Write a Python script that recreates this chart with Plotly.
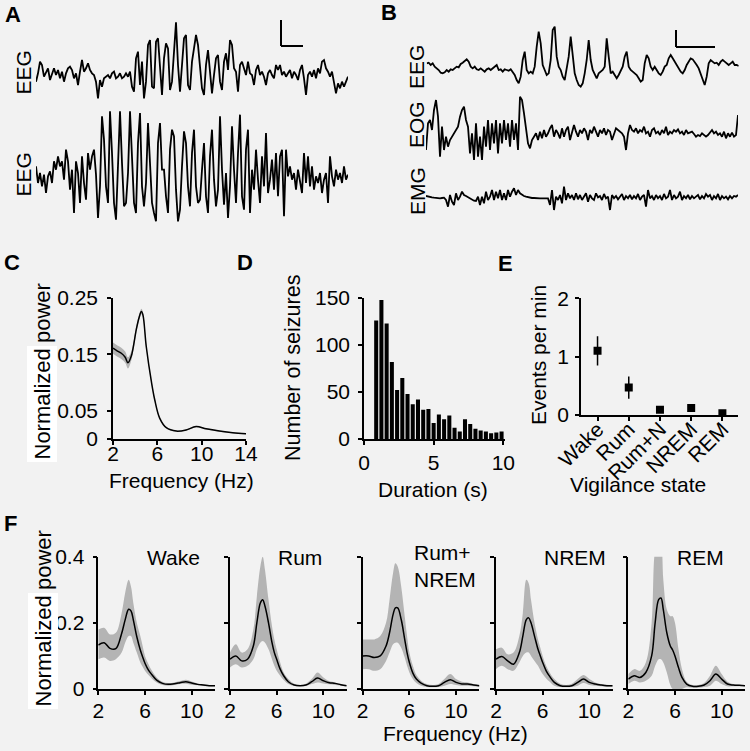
import plotly.graph_objects as go

# ---------------- DATA ----------------
# Panel A: example EEG traces (amplitude, arbitrary units, evenly sampled)
eeg_a1 = [-15,10,45,35,0,15,25,-10,10,25,5,20,-5,15,-15,10,25,30,20,-5,10,-25,15,50,15,25,40,20,10,5,-15,-65,-10,-30,-5,0,5,-5,10,15,-5,0,10,-5,0,10,0,15,-30,-45,55,75,-25,45,-65,-15,95,110,-30,-35,105,115,15,-55,55,100,85,-40,-15,75,163,35,-45,35,115,125,-25,-40,45,85,125,95,25,-35,-55,35,80,15,-50,5,55,65,-15,-40,45,70,20,110,95,25,15,-45,35,45,25,5,45,10,5,-25,20,35,5,15,0,-25,10,20,5,-5,35,20,35,5,15,0,10,20,-5,15,5,-10,20,35,-5,-55,5,15,0,20,-5,25,10,45,50,25,15,0,15,-15,-50,-20,-35,-15,-30,-15,0]
eeg_a2 = [35,-15,15,-25,10,-45,5,20,-15,50,25,65,35,50,-5,85,50,-35,25,-105,50,15,-75,65,-15,-65,75,25,65,85,10,-120,-25,185,115,-25,-75,200,75,-75,-125,25,200,45,-85,-75,15,200,35,-75,-105,105,195,-25,-85,-15,165,55,-75,-105,-130,105,165,25,25,-55,-105,85,145,125,-35,-130,-95,35,140,105,-25,-85,75,145,-25,-75,-65,25,105,-55,-105,65,145,-5,-85,-35,185,25,-80,15,-120,-25,155,25,-75,75,190,-55,-95,85,145,-105,25,-35,85,-5,-75,65,-25,135,-45,-5,55,-35,75,-55,65,85,-115,85,5,35,-5,15,-35,25,-5,-45,75,-15,65,-25,35,-35,5,-15,15,-45,-5,15,-75,65,5,-25,25,-5,15,-15,35,-5,10]
# Panel B: EEG / EOG / EMG traces
eeg_b = [20,22,15,20,10,5,0,-8,-10,-7,0,-5,2,0,5,10,8,18,22,28,32,25,10,5,10,2,0,5,0,-5,2,5,0,5,10,15,0,2,-5,2,0,-2,2,-5,-15,-30,-40,-20,30,55,0,-10,-5,-10,10,70,115,80,15,0,-15,-10,30,120,130,40,10,0,-20,-30,0,40,100,50,-10,-30,-45,-50,-40,-10,30,90,30,0,-15,-25,-10,-5,0,10,95,40,-10,-5,-15,-25,-15,0,10,40,55,10,0,-5,-10,-15,-25,-35,-30,20,45,35,10,0,10,0,-10,-15,-5,10,15,35,45,35,25,15,5,-5,-10,0,15,25,35,32,25,15,5,-10,-25,-45,-20,20,30,25,20,22,15,25,30,25,20,15,20,25,15,15,12]
eog_b = [-45,35,45,15,75,105,55,-65,25,-45,-5,-35,-15,-5,5,15,25,55,75,85,45,25,-55,5,-75,35,-65,-5,-75,25,-35,45,-45,35,-25,45,-55,35,-25,45,-15,35,-35,45,-15,35,-45,115,105,65,15,-25,-40,-15,-5,5,-15,10,-10,15,-5,5,20,30,-5,15,5,-10,20,-5,15,25,-15,5,30,10,-5,15,5,20,10,-15,15,5,25,10,-5,15,5,20,0,15,10,-15,5,20,15,10,5,-5,-45,5,30,15,10,20,5,15,10,25,5,10,-5,15,20,5,10,0,15,5,25,0,10,5,15,10,17,5,10,0,15,5,7,10,3,-5,0,-3,5,0,-5,0,7,15,5,10,0,5,-5,10,-10,5,-5,7,-5,0,60]
emg_b = [2,0,-2,-2,-3,-4,-5,-5,-4,-3,-10,-30,5,-15,-25,10,-10,0,15,5,2,-2,-6,-10,-12,-13,0,-25,0,-20,15,-10,0,20,-10,15,-5,20,-10,10,-10,20,0,15,25,5,20,10,5,2,0,-2,-3,-4,-4,-5,-5,-5,-5,-5,-6,-5,-25,20,-40,0,-10,5,-20,30,-10,10,-5,5,-10,10,-8,5,-10,2,10,-15,5,-5,-10,10,-2,2,-10,8,-5,0,-40,5,-5,2,-8,0,8,-10,2,-5,5,-8,2,-5,8,-10,0,5,-30,20,-5,2,-10,5,-5,2,-10,8,-5,0,20,-10,5,-5,0,15,-10,2,-5,5,-8,2,-5,0,5,-8,2,-5,8,0,5,-10,2,-5,8,-10,2,-5,0,-8,2,-5,2,0,5]

# Panel C: mean normalized power spectrum of seizures
c_freq = [2, 2.4, 2.75, 3.1, 3.35, 3.65, 4.1, 4.35, 4.56, 4.7, 5.0, 5.46, 5.76, 6.21, 6.81, 7.71, 8.6, 9.5, 10.4, 11.6, 12.8, 14]
c_mean = [0.161, 0.156, 0.152, 0.145, 0.135, 0.147, 0.194, 0.215, 0.226, 0.22, 0.164, 0.102, 0.07, 0.037, 0.02, 0.014, 0.016, 0.022, 0.018, 0.014, 0.011, 0.0095]
c_sem = [0.01, 0.01, 0.01, 0.01, 0.01, 0.008, 0.006, 0.005, 0.005, 0.005, 0.003, 0.002, 0.002, 0.001, 0.001, 0.001, 0.001, 0.001, 0.001, 0.001, 0.001, 0.001]

# Panel D: seizure duration histogram
d_duration = [0.875, 1.25, 1.625, 2.0, 2.375, 2.75, 3.125, 3.5, 3.875, 4.25, 4.625, 5.0, 5.375, 5.75, 6.125, 6.5, 6.875, 7.25, 7.625, 8.0, 8.375, 8.75, 9.125, 9.5, 9.875]
d_count = [126, 148, 123, 82, 52, 65, 48, 37, 42, 31, 32, 17, 26, 21, 25, 12, 8, 21, 16, 11, 9, 8, 6, 7, 8]

# Panel E: events per minute by vigilance state
e_states = ["Wake", "Rum", "Rum+N", "NREM", "REM"]
e_rate = [1.1, 0.47, 0.09, 0.12, 0.03]
e_err = [0.25, 0.19, 0.02, 0.02, 0.01]

# Panel F: spectra per vigilance state
f_titles = ["Wake", "Rum", "Rum+<br>NREM", "NREM", "REM"]
f_freq = [2, 2.5, 3, 3.5, 4, 4.3, 4.6, 4.8, 5.0, 5.3, 5.6, 5.8, 6.0, 6.3, 6.6, 7.0, 7.5, 8.0, 8.5, 9.0, 9.5, 10.0, 10.5, 11.0, 11.5, 12.0]
f_mean = [
    [0.133, 0.14, 0.123, 0.122, 0.168, 0.209, 0.241, 0.236, 0.209, 0.158, 0.118, 0.097, 0.078, 0.057, 0.043, 0.027, 0.017, 0.014, 0.016, 0.019, 0.022, 0.018, 0.014, 0.012, 0.01, 0.01],
    [0.09, 0.1, 0.085, 0.09, 0.13, 0.2, 0.26, 0.27, 0.25, 0.2, 0.14, 0.11, 0.09, 0.06, 0.04, 0.022, 0.012, 0.01, 0.012, 0.022, 0.033, 0.025, 0.019, 0.017, 0.013, 0.01],
    [0.1, 0.1, 0.095, 0.1, 0.13, 0.17, 0.225, 0.245, 0.245, 0.21, 0.15, 0.11, 0.08, 0.048, 0.03, 0.018, 0.01, 0.008, 0.01, 0.02, 0.028, 0.02, 0.015, 0.015, 0.012, 0.01],
    [0.09, 0.098, 0.085, 0.075, 0.11, 0.16, 0.21, 0.215, 0.2, 0.16, 0.12, 0.1, 0.08, 0.055, 0.038, 0.02, 0.01, 0.008, 0.01, 0.02, 0.03, 0.02, 0.015, 0.012, 0.01, 0.01],
    [0.03, 0.04, 0.035, 0.05, 0.1, 0.2, 0.27, 0.275, 0.24, 0.17, 0.13, 0.118, 0.1, 0.065, 0.035, 0.015, 0.008, 0.008, 0.012, 0.025, 0.045, 0.03, 0.015, 0.012, 0.011, 0.01],
]
f_upper = [
    [0.18, 0.185, 0.165, 0.17, 0.23, 0.29, 0.33, 0.31, 0.26, 0.2, 0.16, 0.13, 0.1, 0.075, 0.055, 0.035, 0.022, 0.018, 0.02, 0.024, 0.028, 0.023, 0.017, 0.014, 0.012, 0.012],
    [0.11, 0.135, 0.11, 0.12, 0.18, 0.28, 0.37, 0.4, 0.36, 0.27, 0.19, 0.15, 0.12, 0.08, 0.05, 0.03, 0.016, 0.012, 0.016, 0.03, 0.05, 0.035, 0.024, 0.02, 0.015, 0.012],
    [0.15, 0.15, 0.15, 0.16, 0.2, 0.27, 0.35, 0.38, 0.37, 0.31, 0.22, 0.16, 0.11, 0.07, 0.042, 0.025, 0.015, 0.012, 0.015, 0.03, 0.045, 0.03, 0.022, 0.02, 0.015, 0.012],
    [0.12, 0.125, 0.105, 0.11, 0.16, 0.23, 0.33, 0.32, 0.27, 0.2, 0.15, 0.125, 0.1, 0.07, 0.05, 0.03, 0.016, 0.012, 0.016, 0.03, 0.042, 0.03, 0.02, 0.015, 0.013, 0.012],
    [0.045, 0.06, 0.055, 0.08, 0.2, 0.42, 0.45, 0.44, 0.33, 0.24, 0.22, 0.22, 0.2, 0.12, 0.06, 0.022, 0.012, 0.012, 0.018, 0.04, 0.07, 0.045, 0.022, 0.015, 0.013, 0.012],
]
f_lower = [
    [0.09, 0.095, 0.085, 0.09, 0.11, 0.14, 0.16, 0.16, 0.14, 0.11, 0.08, 0.067, 0.055, 0.042, 0.031, 0.02, 0.012, 0.01, 0.012, 0.015, 0.016, 0.013, 0.011, 0.009, 0.008, 0.008],
    [0.065, 0.075, 0.065, 0.07, 0.09, 0.12, 0.14, 0.145, 0.14, 0.12, 0.09, 0.07, 0.055, 0.04, 0.027, 0.015, 0.009, 0.008, 0.009, 0.015, 0.02, 0.017, 0.014, 0.012, 0.01, 0.008],
    [0.06, 0.06, 0.055, 0.06, 0.085, 0.11, 0.135, 0.14, 0.14, 0.125, 0.095, 0.07, 0.05, 0.03, 0.018, 0.01, 0.006, 0.005, 0.006, 0.01, 0.015, 0.012, 0.01, 0.01, 0.008, 0.007],
    [0.06, 0.07, 0.06, 0.055, 0.08, 0.1, 0.11, 0.11, 0.1, 0.085, 0.07, 0.057, 0.045, 0.032, 0.022, 0.01, 0.006, 0.005, 0.006, 0.01, 0.018, 0.012, 0.01, 0.008, 0.007, 0.007],
    [0.015, 0.025, 0.02, 0.025, 0.04, 0.07, 0.09, 0.09, 0.08, 0.05, 0.012, 0.0, 0.0, 0.0, 0.0, 0.005, 0.004, 0.004, 0.006, 0.01, 0.025, 0.015, 0.008, 0.008, 0.008, 0.008],
]

# ---------------- STYLE / LAYOUT ----------------
W, H = 750, 751
BG = "#f2f2f2"
BAND = "#b4b4b4"
FONT = "Arial, Liberation Sans, sans-serif"
FS = 21


def px(x):
    return x / W


def py(y):
    return 1 - y / H


fig = go.Figure()
layout = dict(width=W, height=H, margin=dict(l=0, r=0, t=0, b=0, pad=0, autoexpand=False),
              paper_bgcolor=BG, plot_bgcolor=BG, showlegend=False,
              font=dict(family=FONT, size=FS, color="black"))
_n = [0]


def add_axes(xdom, ydom, xopts, yopts):
    _n[0] += 1
    n = _n[0]
    s = "" if n == 1 else str(n)
    layout["xaxis" + s] = dict(domain=[px(xdom[0]), px(xdom[1])], anchor="y" + s, automargin=False, **xopts)
    layout["yaxis" + s] = dict(domain=[py(ydom[1]), py(ydom[0])], anchor="x" + s, automargin=False, **yopts)
    return "x" + s, "y" + s


def hidden(rng):
    return dict(visible=False, range=rng, fixedrange=True, showgrid=False, zeroline=False)


def vis(rng, tickvals, ticktext=None, showlabels=True, standoff=0, **kw):
    d = dict(range=rng, tickvals=tickvals, showline=True, linecolor="black", linewidth=1.5,
             ticks="outside", ticklen=4, tickwidth=1.5, tickcolor="black",
             showgrid=False, zeroline=False, showticklabels=showlabels,
             tickfont=dict(size=FS, family=FONT, color="black"), ticklabelstandoff=standoff)
    if ticktext is not None:
        d["ticktext"] = ticktext
    d.update(kw)
    return d


def add_trace_line(vals, xdom, ydom, yrng):
    xa, ya = add_axes(xdom, ydom, hidden([0, len(vals) - 1]), hidden(yrng))
    fig.add_trace(go.Scatter(x=list(range(len(vals))), y=vals, mode="lines",
                             line=dict(color="black", width=1.8), xaxis=xa, yaxis=ya,
                             hoverinfo="skip"))


# Panel A
add_trace_line(eeg_a1, (36, 348), (15, 103), [-79, 185])
add_trace_line(eeg_a2, (36, 348), (103, 228), [-150, 225])
# Panel B
add_trace_line(eeg_b, (426.7, 738.7), (20, 92), [-66, 150])
add_trace_line(eog_b, (426, 738), (92, 172), [-111, 129])
add_trace_line(emg_b, (426, 738), (172, 215), [-55, 74])

# Panel C
xa, ya = add_axes((113, 246), (298, 439),
                  vis([2, 14], [2, 6, 10, 14], standoff=-9),
                  vis([0, 0.25], [0, 0.05, 0.15, 0.25], ["0", "0.05", "0.15", "0.25"], standoff=5))
c_up = [m + s for m, s in zip(c_mean, c_sem)]
c_lo = [m - s for m, s in zip(c_mean, c_sem)]
fig.add_trace(go.Scatter(x=c_freq, y=c_lo, mode="lines", line=dict(width=0, shape="spline"),
                         xaxis=xa, yaxis=ya, hoverinfo="skip"))
fig.add_trace(go.Scatter(x=c_freq, y=c_up, mode="lines", line=dict(width=0, shape="spline"),
                         fill="tonexty", fillcolor=BAND, xaxis=xa, yaxis=ya, hoverinfo="skip"))
fig.add_trace(go.Scatter(x=c_freq, y=c_mean, mode="lines",
                         line=dict(color="black", width=1.5, shape="spline"), xaxis=xa, yaxis=ya))

# Panel D
xa, ya = add_axes((364, 504.7), (298, 439),
                  vis([0, 10.1], [0, 5, 10], standoff=0),
                  vis([0, 150], [0, 50, 100, 150], standoff=4))
fig.add_trace(go.Bar(x=d_duration, y=d_count, width=0.29, marker=dict(color="black", line=dict(width=0)),
                     xaxis=xa, yaxis=ya))

# Panel E
xa, ya = add_axes((581, 738), (298.3, 415),
                  vis([-0.53, 4.5], list(range(len(e_states))), e_states, tickangle=-45, standoff=-12),
                  vis([0, 2], [0, 1, 2], standoff=2))
fig.add_trace(go.Scatter(x=list(range(len(e_states))), y=e_rate, mode="markers",
                         marker=dict(symbol="square", size=8, color="black"),
                         error_y=dict(type="data", array=e_err, color="black", thickness=1.5, width=0),
                         xaxis=xa, yaxis=ya))

# Panel F
f_left = [98.3, 230, 362.7, 496, 628.3]
for i in range(5):
    xa, ya = add_axes((f_left[i], f_left[i] + 116.7), (556.7, 689),
                      vis([2, 12], [2, 6, 10], standoff=-2),
                      vis([0, 0.4], [0, 0.2, 0.4], ["0", "0.2", "0.4"], showlabels=(i == 0), standoff=4))
    fig.add_trace(go.Scatter(x=f_freq, y=f_lower[i], mode="lines", line=dict(width=0, shape="spline"),
                             xaxis=xa, yaxis=ya, hoverinfo="skip"))
    fig.add_trace(go.Scatter(x=f_freq, y=f_upper[i], mode="lines", line=dict(width=0, shape="spline"),
                             fill="tonexty", fillcolor=BAND, xaxis=xa, yaxis=ya, hoverinfo="skip"))
    fig.add_trace(go.Scatter(x=f_freq, y=f_mean[i], mode="lines",
                             line=dict(color="black", width=1.5, shape="spline"), xaxis=xa, yaxis=ya))

fig.update_layout(**layout)

# ---------------- ANNOTATIONS ----------------
ann = []


def text(t, x, y, size=FS, bold=False, angle=0, bg=None, xanchor="center", align="center"):
    a = dict(text=("<b>%s</b>" % t) if bold else t, x=px(x), y=py(y), xref="paper", yref="paper",
             showarrow=False, textangle=angle, xanchor=xanchor, yanchor="middle", align=align,
             font=dict(size=size, family=FONT, color="black"))
    if bg:
        a["bgcolor"] = bg
        a["borderpad"] = 2
    ann.append(a)


for lab, (x, y) in {"A": (12.5, 14.5), "B": (389, 12.5), "C": (11.5, 262.5),
                    "D": (245.5, 262.5), "E": (505, 264), "F": (10, 523)}.items():
    text(lab, x, y, size=22, bold=True)

text("EEG", 23.5, 73, angle=-90)
text("EEG", 23.5, 175, angle=-90)
text("EEG", 417, 67, angle=-90)
text("EOG", 417, 125, angle=-90)
text("EMG", 417, 191, angle=-90)

# C titles
text("Normalized", 42, 404.5, size=22, angle=-90, bg="white")
text("power", 42, 313, size=22, angle=-90)
text("Frequency (Hz)", 181.7, 480)
# D titles
text("Number of seizures", 293, 368, size=21.5, angle=-90)
text("Duration (s)", 433.5, 489)
# E titles
text("Events per min", 538, 355, angle=-90)
text("Vigilance state", 638, 484)
# F titles
text("Normalized", 43, 651.5, size=22, angle=-90, bg="white")
text("power", 43, 560, size=22, angle=-90)
text("Frequency (Hz)", 455, 733)
f_title_pos = [(173, 557, "center"), (300, 557, "center"), (411.7, 566, "left"),
               (575, 557, "center"), (700, 557, "center")]
for t, (x, y, anc) in zip(f_titles, f_title_pos):
    text(t, x, y, xanchor=anc, align="left" if anc == "left" else "center")

# scale bars
shapes = []
for (x0, y0, x1, y1) in [(281, 20, 281, 46), (281, 46, 303, 46), (676, 30, 676, 47), (676, 47, 715, 47)]:
    shapes.append(dict(type="line", xref="paper", yref="paper", x0=px(x0), y0=py(y0), x1=px(x1), y1=py(y1),
                       line=dict(color="black", width=2)))

fig.update_layout(annotations=ann, shapes=shapes)
fig.write_html("out.html", config={"displayModeBar": False},
               post_script="document.body.style.margin='0px';document.body.style.background='%s';" % BG)
